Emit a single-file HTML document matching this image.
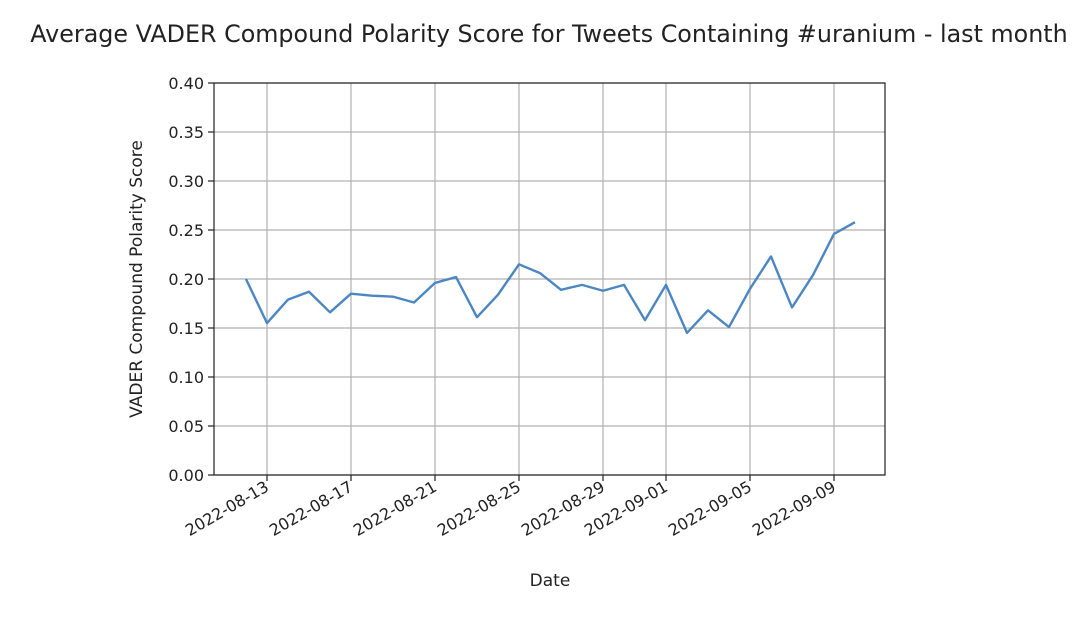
<!DOCTYPE html>
<html><head><meta charset="utf-8"><style>
body{margin:0;background:#fff;}
svg text{font-family:"DejaVu Sans","Liberation Sans",sans-serif;fill:#222;}
</style></head><body>
<svg id="chart" width="1092" height="614" xmlns="http://www.w3.org/2000/svg">
<rect width="1092" height="614" fill="#fff"/>
<text x="549" y="42" font-size="23.8" text-anchor="middle">Average VADER Compound Polarity Score for Tweets Containing #uranium - last month</text>
<g id="grid"></g><g id="axes"></g><g id="series"></g>
<text x="550" y="586" font-size="17" text-anchor="middle">Date</text>
<text transform="translate(142,279) rotate(-90)" font-size="17" text-anchor="middle">VADER Compound Polarity Score</text>
</svg>
<script>
const startDay = 12; // Aug 12 2022 = day index 0
const values = [0.200,0.155,0.179,0.187,0.166,0.185,0.183,0.182,0.176,0.196,0.202,0.161,0.184,0.215,0.206,0.189,0.194,0.188,0.194,0.158,0.194,0.145,0.168,0.151,0.190,0.223,0.171,0.204,0.246,0.258];
const xTickDays = [1,5,9,13,17,20,24,28];
const xTickLabels = ["2022-08-13","2022-08-17","2022-08-21","2022-08-25","2022-08-29","2022-09-01","2022-09-05","2022-09-09"];
const yTicks = [0,0.05,0.10,0.15,0.20,0.25,0.30,0.35,0.40];
const L=214,R=885,T=83,B=475;
const xs=d=>246+d*21;
const ys=v=>B-(v/0.4)*(B-T);
const NS="http://www.w3.org/2000/svg";
function mk(tag,attrs,parent){const e=document.createElementNS(NS,tag);for(const k in attrs)e.setAttribute(k,attrs[k]);parent.appendChild(e);return e;}
const grid=document.getElementById('grid'),axes=document.getElementById('axes'),series=document.getElementById('series');
yTicks.forEach(v=>{
  const y=ys(v);
  const g=mk('line',{x1:L,x2:R,y1:y,y2:y,stroke:'#b0b0b0','stroke-width':1.2},grid);
  
  
  mk('line',{x1:L-6,x2:L,y1:y,y2:y,stroke:'#222','stroke-width':1.2},axes);
  const t=mk('text',{x:L-10,y:y+6,'font-size':16,'text-anchor':'end'},axes);
  
  
  t.textContent=v.toFixed(2);
});
xTickDays.forEach((d,i)=>{
  const x=xs(d);
  const g=mk('line',{x1:x,x2:x,y1:T,y2:B,stroke:'#b0b0b0','stroke-width':1.2},grid);
  
  
  mk('line',{x1:x,x2:x,y1:B,y2:B+6,stroke:'#222','stroke-width':1.2},axes);
  const t=mk('text',{transform:`translate(${x+3},${B+15}) rotate(-30)`,'font-size':16,'text-anchor':'end'},axes);
  
  
  t.textContent=xTickLabels[i];
});
const frame=mk('rect',{x:L,y:T,width:R-L,height:B-T,fill:'none',stroke:'#222','stroke-width':1.2},axes);


const pts=values.map((v,i)=>xs(i)+','+ys(v)).join(' ');
const line=mk('polyline',{points:pts,fill:'none',stroke:'#4c87c2','stroke-width':2.4,'stroke-linejoin':'round'},series);


</script>
</body></html>
